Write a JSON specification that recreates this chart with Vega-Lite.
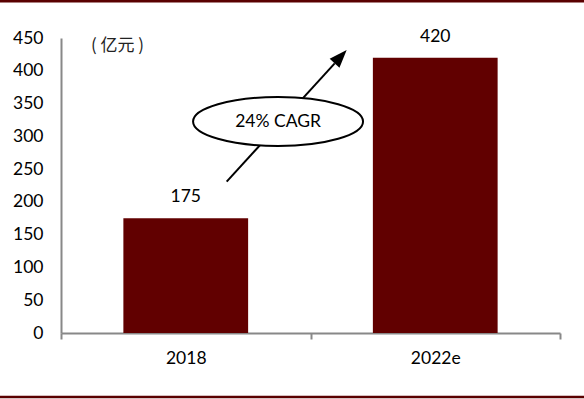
{
  "$schema": "https://vega.github.io/schema/vega-lite/v6.json",
  "width": 499,
  "height": 295,
  "autosize": {"type": "none"},
  "padding": {"left": 61, "top": 38, "right": 24, "bottom": 66},
  "background": "white",
  "config": {"view": {"stroke": null}, "font": "Lato"},
  "datasets": {
    "bars": [{"year": "2018", "y": 175}, {"year": "2022e", "y": 420}],
    "arrow": [{"x": 0.664, "y": 230.8, "x2": 1.097, "y2": 411.4}],
    "head": [{"x": 1.145, "y": 431.7}],
    "ellipse": [{"x": 0.87, "y": 322.6, "label": "24% CAGR"}],
    "frame": [{"x": -0.3, "x2": 2.2, "y": 506}, {"x": -0.3, "x2": 2.2, "y": -97.5}]
  },
  "encoding": {
    "y": {
      "field": "y", "type": "quantitative",
      "scale": {"domain": [0, 450], "nice": false},
      "axis": {"title": "( 亿元 )", "titleAngle": 0, "titleX": 56, "titleY": 7, "titleAlign": "center", "titleBaseline": "middle", "titleFontWeight": "normal", "titleFontSize": 17, "titleFont": "Noto Sans CJK SC", "titleColor": "#222222", "values": [0, 50, 100, 150, 200, 250, 300, 350, 400, 450], "labelOverlap": false, "grid": false, "ticks": false, "labelPadding": 18, "labelFontSize": 17.5, "labelColor": "black", "labelFont": "Lato", "domainColor": "#888888", "domainWidth": 2}
    }
  },
  "layer": [
    {
      "data": {"name": "bars"},
      "mark": {"type": "bar", "width": {"band": 0.5}, "color": "#610000"},
      "encoding": {
        "x": {
          "field": "year", "type": "nominal",
          "scale": {"paddingInner": 0, "paddingOuter": 0},
          "axis": {"title": null, "labelAngle": 0, "tickBand": "extent", "tickSize": 6, "tickColor": "#888888", "tickWidth": 2, "domainColor": "#888888", "domainWidth": 2, "labelPadding": 10, "labelFontSize": 17.5, "labelColor": "black", "labelFont": "Lato"}
        }
      }
    },
    {
      "data": {"name": "bars"},
      "mark": {"type": "text", "baseline": "middle", "dy": -21, "fontSize": 17.5, "color": "black", "font": "Lato"},
      "encoding": {
        "x": {"field": "year", "type": "nominal", "scale": {"paddingInner": 0, "paddingOuter": 0}, "axis": null},
        "text": {"field": "y", "type": "quantitative"}
      }
    },
    {
      "data": {"name": "arrow"},
      "mark": {"type": "rule", "color": "black", "strokeWidth": 2},
      "encoding": {
        "x": {"field": "x", "type": "quantitative", "scale": {"domain": [0, 2], "nice": false, "zero": false}, "axis": null},
        "x2": {"field": "x2"},
        "y2": {"field": "y2"}
      }
    },
    {
      "data": {"name": "head"},
      "mark": {"type": "point", "shape": "M0,0 L-0.55,1.5 L0.55,1.5 Z", "angle": 42.3, "size": 576, "filled": true, "color": "black", "opacity": 1},
      "encoding": {
        "x": {"field": "x", "type": "quantitative", "scale": {"domain": [0, 2], "nice": false, "zero": false}, "axis": null}
      }
    },
    {
      "data": {"name": "ellipse"},
      "mark": {"type": "point", "shape": "M-1,0 A1,0.288 0 1,0 1,0 A1,0.288 0 1,0 -1,0 Z", "size": 28900, "fill": "white", "stroke": "black", "strokeWidth": 2, "opacity": 1, "fillOpacity": 1},
      "encoding": {
        "x": {"field": "x", "type": "quantitative", "scale": {"domain": [0, 2], "nice": false, "zero": false}, "axis": null}
      }
    },
    {
      "data": {"name": "ellipse"},
      "mark": {"type": "text", "baseline": "middle", "align": "center", "fontSize": 17.5, "color": "black", "font": "Lato"},
      "encoding": {
        "x": {"field": "x", "type": "quantitative", "scale": {"domain": [0, 2], "nice": false, "zero": false}, "axis": null},
        "text": {"field": "label"}
      }
    },
    {
      "data": {"name": "frame"},
      "mark": {"type": "rule", "color": "#5a0000", "strokeWidth": 2.5, "clip": false},
      "encoding": {
        "x": {"field": "x", "type": "quantitative", "scale": {"domain": [0, 2], "nice": false, "zero": false}, "axis": null},
        "x2": {"field": "x2"}
      }
    }
  ],
  "resolve": {"scale": {"x": "independent"}}
}
